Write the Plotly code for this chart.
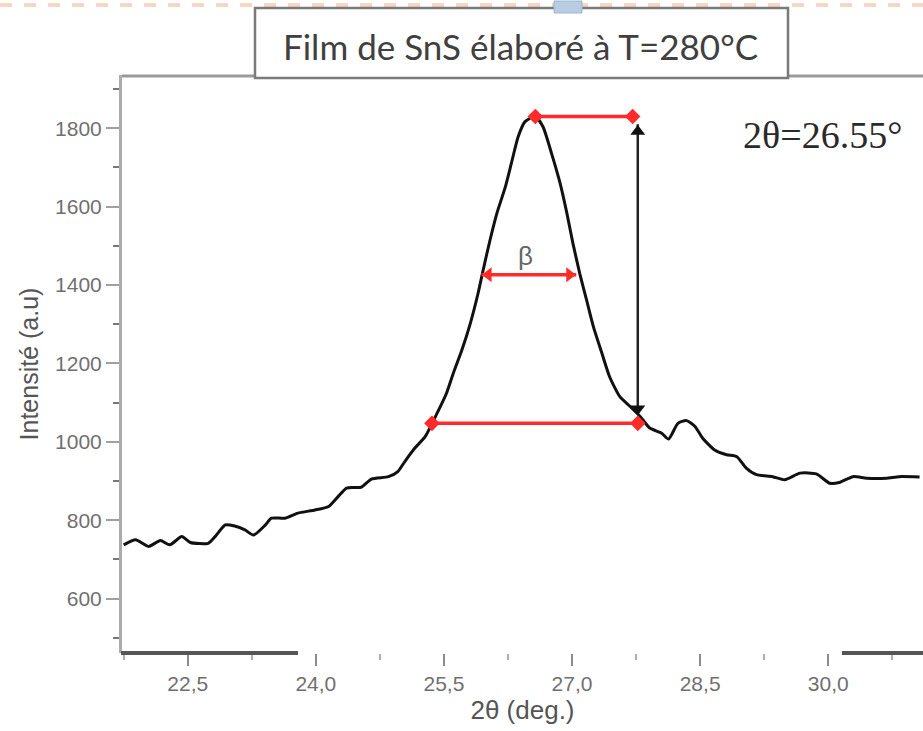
import plotly.graph_objects as go

# ---- data ----
two_theta = [21.75, 21.89, 22.04, 22.18, 22.29, 22.43, 22.53, 22.74, 22.82, 22.94,
             23.05, 23.17, 23.27, 23.41, 23.48, 23.64, 23.79, 23.99, 24.15, 24.26,
             24.36, 24.53, 24.65, 24.85, 24.96, 25.04, 25.16, 25.28, 25.42, 25.53,
             25.61, 25.71, 25.81, 25.90, 25.96, 26.04, 26.12, 26.22, 26.29, 26.37,
             26.45, 26.57, 26.66, 26.76, 26.86, 26.94, 27.01, 27.09, 27.17, 27.25,
             27.35, 27.44, 27.56, 27.68, 27.80, 27.91, 28.05, 28.13, 28.24, 28.34,
             28.44, 28.53, 28.67, 28.81, 28.93, 29.04, 29.16, 29.35, 29.49, 29.67,
             29.86, 30.02, 30.13, 30.29, 30.45, 30.68, 30.83, 31.07]
intensity = [737, 750, 733, 748, 737, 758, 743, 741, 758, 788,
             785, 775, 762, 788, 805, 805, 818, 826, 835, 860,
             882, 884, 905, 911, 924, 949, 984, 1013, 1073, 1124,
             1175, 1234, 1303, 1379, 1439, 1515, 1583, 1651, 1711, 1779,
             1817, 1830, 1804, 1736, 1660, 1583, 1507, 1430, 1362, 1294,
             1226, 1166, 1115, 1090, 1064, 1035, 1022, 1007, 1047, 1054,
             1039, 1009, 979, 967, 962, 933, 916, 911, 903, 920,
             918, 894, 896, 911, 907, 907, 911, 910]

x_tickvals = [22.5, 24.0, 25.5, 27.0, 28.5, 30.0]
x_ticktext = ["22,5", "24,0", "25,5", "27,0", "28,5", "30,0"]
y_tickvals = [600, 800, 1000, 1200, 1400, 1600, 1800]

# construction lines
top_line_x = [26.57, 27.71]
top_line_y = [1830, 1830]
beta_line_x = [25.94, 27.05]
beta_line_y = [1426, 1426]
base_line_x = [25.36, 27.77]
base_line_y = [1047, 1047]
height_x = [27.77, 27.77]
height_y = [1084, 1792]

title_text = "Film de SnS élaboré à T=280°C"
peak_label = "2θ=26.55°"
peak_label_pos = (29.93, 1782)
beta_label = "β"
beta_label_pos = (26.45, 1474)

RED = "#ff2a2a"

fig = go.Figure()

fig.add_trace(go.Scatter(x=two_theta, y=intensity, mode="lines",
                         line=dict(color="#111111", width=3, shape="spline", smoothing=0.6),
                         hoverinfo="skip", showlegend=False))

# top horizontal red line
fig.add_trace(go.Scatter(x=top_line_x, y=top_line_y, mode="lines+markers",
                         line=dict(color=RED, width=3.5),
                         marker=dict(symbol="diamond", size=12, color=RED),
                         showlegend=False))
# beta line with outward arrows
fig.add_trace(go.Scatter(x=beta_line_x, y=beta_line_y, mode="lines",
                         line=dict(color=RED, width=3.5), showlegend=False))
fig.add_trace(go.Scatter(x=[beta_line_x[0] + 0.08, beta_line_x[1] - 0.08], y=beta_line_y,
                         mode="markers",
                         marker=dict(symbol=["triangle-left", "triangle-right"], size=13, color=RED),
                         showlegend=False))
# base line
fig.add_trace(go.Scatter(x=base_line_x, y=base_line_y, mode="lines+markers",
                         line=dict(color=RED, width=3.5),
                         marker=dict(symbol="diamond", size=12, color=RED),
                         showlegend=False))
# vertical height double arrow
fig.add_trace(go.Scatter(x=height_x, y=[1070, 1810], mode="lines",
                         line=dict(color="#222222", width=2.5), showlegend=False))
fig.add_trace(go.Scatter(x=height_x, y=height_y, mode="markers",
                         marker=dict(symbol=["triangle-down", "triangle-up"], size=13, color="#111111"),
                         showlegend=False))

# plot-area pixel geometry (for paper-referenced decorations)
L, R, T, B = 122, 923, 75, 653
def px(xp):
    return (xp - L) / (R - L)
def py(yp):
    return (B - yp) / (B - T)

shapes = [
    dict(type="line", xref="paper", yref="paper", x0=px(0), x1=px(923), y0=py(5), y1=py(5),
         line=dict(color="#f6d7c3", width=4, dash="dash")),
    dict(type="line", xref="paper", yref="paper", x0=0, x1=1, y0=py(76), y1=py(76),
         line=dict(color="#9a9a9a", width=3)),
    dict(type="line", xref="paper", yref="paper", x0=px(121), x1=px(298), y0=0, y1=0,
         line=dict(color="#555555", width=4)),
    dict(type="line", xref="paper", yref="paper", x0=px(842), x1=px(923), y0=0, y1=0,
         line=dict(color="#555555", width=4)),
    dict(type="rect", xref="paper", yref="paper", x0=px(255), x1=px(788), y0=py(78), y1=py(8),
         fillcolor="white", line=dict(color="#7a7a7a", width=2.5), layer="above"),
    dict(type="rect", xref="paper", yref="paper", x0=px(554), x1=px(582), y0=py(13), y1=py(1),
         fillcolor="#b9cde2", line=dict(color="#9fb6cf", width=1), layer="above"),
]

annotations = [
    dict(text=title_text, xref="paper", yref="paper", x=px(520), y=py(46),
         xanchor="center", yanchor="middle",
         showarrow=False, font=dict(family="Lato, Arial", size=35, color="#404040")),
    dict(text=peak_label, xref="x", yref="y", x=peak_label_pos[0], y=peak_label_pos[1],
         xanchor="center", yanchor="middle",
         showarrow=False, font=dict(family="Liberation Serif, Times New Roman", size=38, color="#2a2a2a")),
    dict(text=beta_label, xref="x", yref="y", x=beta_label_pos[0], y=beta_label_pos[1],
         xanchor="center", yanchor="middle",
         showarrow=False, font=dict(family="Liberation Sans, Arial", size=26, color="#666666")),
]

fig.update_layout(
    width=923, height=731,
    margin=dict(l=L, r=0, t=T, b=731 - B),
    paper_bgcolor="white", plot_bgcolor="white",
    shapes=shapes, annotations=annotations,
    font=dict(family="Liberation Sans, Arial", color="#666666"),
    xaxis=dict(range=[21.73, 31.11], tickmode="array", tickvals=x_tickvals, ticktext=x_ticktext,
               ticks="outside", ticklen=12, tickwidth=2, tickcolor="#8a8a8a",
               showline=False, showgrid=False, zeroline=False,
               minor=dict(ticks="outside", ticklen=6, tickwidth=2, tickcolor="#b0b0b0",
                          tick0=22.5, dtick=0.75, showgrid=False),
               tickfont=dict(size=21, color="#707070"),
               title=dict(text="2θ (deg.)", font=dict(size=26, color="#555555"), standoff=6)),
    yaxis=dict(range=[461, 1936], tickmode="array", tickvals=y_tickvals,
               ticks="outside", ticklen=13, tickwidth=2, tickcolor="#a0a0a0",
               showline=True, linecolor="#ababab", linewidth=3, mirror=False,
               showgrid=False, zeroline=False,
               minor=dict(ticks="outside", ticklen=6, tickwidth=2, tickcolor="#777777",
                          tick0=500, dtick=100, showgrid=False),
               tickfont=dict(size=21, color="#707070"),
               title=dict(text="Intensité (a.u)", font=dict(size=25, color="#555555"), standoff=10)),
)

fig.write_html("out.html")
